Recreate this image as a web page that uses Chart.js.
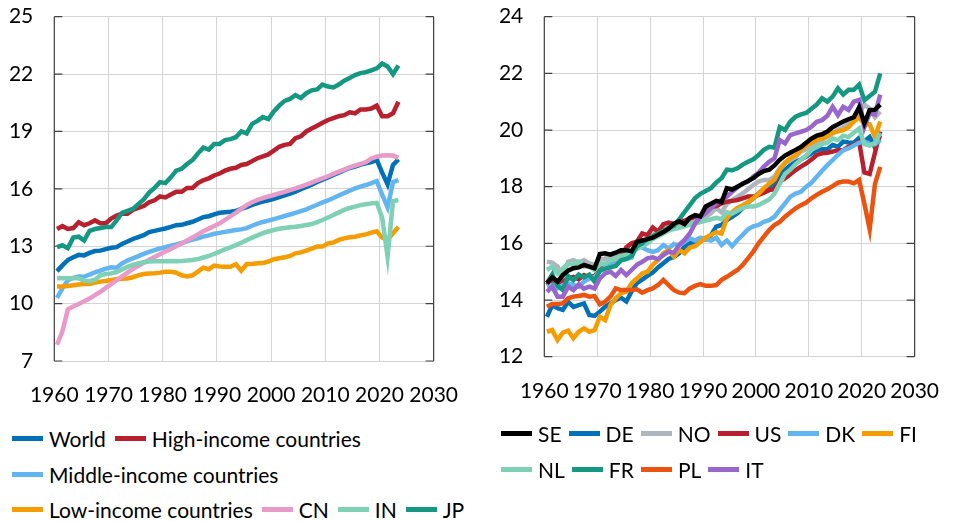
<!DOCTYPE html>
<html>
<head>
<meta charset="utf-8">
<script src="https://cdn.jsdelivr.net/npm/chart.js@4.4.1/dist/chart.umd.min.js"></script>
<style>
    html, body { margin: 0; padding: 0; background: #fff; }
    body { width: 961px; height: 522px; position: relative; overflow: hidden; font-family: Lato, sans-serif; }
    .panel { position: absolute; top: 0; height: 420px; }
    #leftPanel { left: 0; width: 480px; }
    #rightPanel { left: 490px; width: 471px; }
    .legend { position: absolute; font-size: 21px; color: #000; }
    #leftLegend { left: 12px; top: 421px; }
    #rightLegend { left: 501px; top: 416px; }
    .legend .row { display: flex; align-items: center; height: 35.5px; white-space: nowrap; }
    .legend .item { display: flex; align-items: center; margin-right: 9px; }
    #rightLegend .item { margin-right: 7px; }
    .legend .swatch { width: 31px; height: 5px; margin-right: 6px; }
</style>
</head>
<body>
<div class="panel" id="leftPanel"><canvas id="leftChart"></canvas></div>
<div class="panel" id="rightPanel"><canvas id="rightChart"></canvas></div>
<div class="legend" id="leftLegend"></div>
<div class="legend" id="rightLegend"></div>

<script>
//////////////////////* Data *////////////////////////////
let years = [];
for (let y = 1960; y <= 2023; y++) years.push(y);

let leftTicksX = [1960, 1970, 1980, 1990, 2000, 2010, 2020, 2030];
let leftTicksY = [7, 10, 13, 16, 19, 22, 25];
let rightTicksY = [12, 14, 16, 18, 20, 22, 24];

let leftNames = ["World", "High-income countries", "Middle-income countries", "Low-income countries", "CN", "IN", "JP"];
let rightNames = ["SE", "DE", "NO", "US", "DK", "FI", "NL", "FR", "PL", "IT"];

// left panel, 1960-2023
let world = [
    11.70, 12.00, 12.28, 12.42, 12.55, 12.52, 12.65, 12.75,
    12.77, 12.85, 12.92, 12.95, 13.12, 13.25, 13.38, 13.48,
    13.58, 13.74, 13.80, 13.87, 13.93, 14.01, 14.10, 14.12,
    14.20, 14.28, 14.40, 14.52, 14.57, 14.67, 14.75, 14.78,
    14.80, 14.84, 14.95, 15.05, 15.16, 15.25, 15.33, 15.40,
    15.48, 15.57, 15.66, 15.75, 15.85, 15.98, 16.10, 16.22,
    16.36, 16.48, 16.60, 16.73, 16.85, 16.97, 17.09, 17.16,
    17.27, 17.33, 17.40, 17.51, 16.85, 16.24, 17.25, 17.54
];
let highIncome = [
    13.90, 14.05, 13.90, 13.95, 14.25, 14.10, 14.20, 14.35,
    14.20, 14.20, 14.45, 14.60, 14.70, 14.70, 14.90, 15.00,
    15.10, 15.30, 15.40, 15.60, 15.55, 15.70, 15.85, 15.85,
    16.05, 16.05, 16.30, 16.45, 16.55, 16.70, 16.80, 16.95,
    17.05, 17.10, 17.25, 17.30, 17.45, 17.60, 17.70, 17.80,
    18.00, 18.20, 18.30, 18.35, 18.65, 18.75, 19.00, 19.15,
    19.30, 19.45, 19.60, 19.70, 19.80, 19.85, 20.00, 19.95,
    20.15, 20.15, 20.20, 20.35, 19.80, 19.80, 19.95, 20.55
];
let middleIncome = [
    10.30, 10.80, 11.22, 11.35, 11.42, 11.40, 11.52, 11.63,
    11.73, 11.83, 11.90, 11.88, 12.10, 12.25, 12.37, 12.48,
    12.60, 12.70, 12.80, 12.88, 12.95, 13.03, 13.10, 13.17,
    13.25, 13.35, 13.42, 13.50, 13.57, 13.65, 13.70, 13.75,
    13.80, 13.85, 13.88, 13.95, 14.07, 14.18, 14.27, 14.34,
    14.42, 14.50, 14.58, 14.66, 14.74, 14.83, 14.93, 15.05,
    15.17, 15.29, 15.40, 15.52, 15.65, 15.78, 15.90, 16.02,
    16.12, 16.20, 16.30, 16.40, 15.70, 15.03, 16.35, 16.46
];
let lowIncome = [
    10.90, 10.90, 10.92, 10.96, 11.00, 11.03, 11.03, 11.10,
    11.15, 11.18, 11.23, 11.27, 11.30, 11.31, 11.38, 11.48,
    11.55, 11.58, 11.59, 11.62, 11.66, 11.67, 11.62, 11.48,
    11.42, 11.48, 11.67, 11.88, 11.80, 11.99, 11.94, 11.93,
    11.93, 12.06, 11.72, 12.07, 12.07, 12.11, 12.12, 12.20,
    12.32, 12.37, 12.42, 12.49, 12.63, 12.68, 12.77, 12.87,
    12.98, 12.98, 13.15, 13.19, 13.33, 13.41, 13.47, 13.50,
    13.57, 13.62, 13.71, 13.78, 13.45, 13.35, 13.68, 14.00
];
let cn = [
    7.85, 8.55, 9.70, 9.85, 9.98, 10.12, 10.27, 10.44,
    10.62, 10.82, 11.02, 11.22, 11.42, 11.62, 11.80, 11.97,
    12.13, 12.29, 12.44, 12.58, 12.72, 12.86, 13.00, 13.14,
    13.30, 13.46, 13.62, 13.78, 13.92, 14.06, 14.20, 14.38,
    14.56, 14.75, 14.95, 15.15, 15.30, 15.42, 15.52, 15.60,
    15.68, 15.76, 15.84, 15.93, 16.02, 16.12, 16.22, 16.33,
    16.44, 16.55, 16.66, 16.78, 16.90, 17.01, 17.12, 17.22,
    17.31, 17.40, 17.58, 17.68, 17.74, 17.75, 17.74, 17.62
];
let india = [
    11.32, 11.32, 11.32, 11.33, 11.32, 11.20, 11.17, 11.25,
    11.48, 11.55, 11.58, 11.65, 11.78, 11.92, 12.02, 12.10,
    12.16, 12.20, 12.21, 12.21, 12.21, 12.22, 12.22, 12.23,
    12.25, 12.28, 12.33, 12.41, 12.49, 12.60, 12.72, 12.84,
    12.94, 13.06, 13.18, 13.32, 13.45, 13.57, 13.68, 13.77,
    13.85, 13.91, 13.95, 13.99, 14.02, 14.06, 14.11, 14.16,
    14.26, 14.37, 14.50, 14.63, 14.77, 14.90, 15.00, 15.07,
    15.15, 15.20, 15.24, 15.27, 14.50, 12.45, 15.35, 15.42
];
let jp = [
    12.95, 13.05, 12.90, 13.45, 13.50, 13.30, 13.80, 13.90,
    13.95, 14.00, 14.00, 14.35, 14.75, 14.85, 14.95, 15.20,
    15.45, 15.80, 16.05, 16.35, 16.30, 16.60, 16.95, 17.05,
    17.30, 17.50, 17.85, 18.15, 18.05, 18.35, 18.35, 18.55,
    18.60, 18.70, 19.00, 18.90, 19.40, 19.55, 19.75, 19.65,
    20.05, 20.35, 20.60, 20.70, 20.90, 20.75, 21.00, 21.15,
    21.20, 21.45, 21.35, 21.30, 21.45, 21.65, 21.80, 21.95,
    22.05, 22.10, 22.20, 22.30, 22.55, 22.40, 22.00, 22.45
];

// right panel, 1960-2023
let se = [
    14.59, 14.80, 14.65, 14.88, 15.04, 15.12, 15.15, 15.24,
    15.18, 15.12, 15.62, 15.65, 15.60, 15.67, 15.76, 15.76,
    15.72, 16.05, 16.10, 16.15, 16.20, 16.30, 16.40, 16.52,
    16.70, 16.78, 16.68, 16.90, 17.00, 16.95, 17.30, 17.40,
    17.50, 17.45, 17.95, 17.90, 18.00, 18.10, 18.20, 18.30,
    18.45, 18.55, 18.60, 18.75, 18.95, 19.10, 19.20, 19.30,
    19.40, 19.55, 19.70, 19.80, 19.85, 19.95, 20.10, 20.20,
    20.30, 20.38, 20.45, 20.80, 20.24, 20.70, 20.72, 20.90
];
let de = [
    13.41, 13.82, 13.71, 13.65, 13.94, 13.76, 13.82, 13.88,
    13.47, 13.44, 13.59, 13.76, 13.88, 14.00, 14.08, 13.95,
    14.30, 14.60, 14.72, 14.85, 14.97, 15.15, 15.30, 15.45,
    15.53, 15.65, 15.88, 16.00, 16.06, 16.15, 16.14, 16.29,
    16.59, 16.65, 16.82, 16.94, 17.06, 17.24, 17.44, 17.59,
    17.76, 17.91, 18.00, 18.06, 18.41, 18.59, 18.76, 18.88,
    18.96, 19.06, 19.18, 19.29, 19.32, 19.32, 19.47, 19.41,
    19.59, 19.56, 19.55, 19.72, 19.60, 19.75, 19.38, 19.80
];
let no = [
    15.35, 15.32, 15.18, 14.82, 15.35, 15.41, 15.32, 15.41,
    15.29, 15.24, 15.41, 15.47, 15.55, 15.53, 15.62, 15.71,
    15.74, 15.85, 16.00, 16.10, 16.30, 16.45, 16.55, 16.62,
    16.62, 16.59, 16.73, 16.80, 16.76, 16.85, 16.94, 17.06,
    17.24, 17.10, 17.39, 17.53, 17.65, 17.76, 17.91, 18.06,
    18.18, 18.24, 18.24, 18.35, 18.65, 18.82, 18.94, 19.06,
    19.24, 19.32, 19.41, 19.51, 19.65, 19.76, 19.88, 20.00,
    20.10, 20.25, 20.40, 20.60, 20.90, 20.75, 20.45, 20.65
];
let us = [
    14.53, 14.71, 14.49, 14.65, 14.76, 14.82, 14.73, 14.88,
    14.79, 14.85, 15.06, 15.24, 15.32, 15.35, 15.53, 15.86,
    16.00, 16.06, 16.35, 16.29, 16.56, 16.41, 16.68, 16.73,
    16.68, 16.76, 16.80, 16.88, 16.94, 16.96, 17.18, 17.29,
    17.32, 17.41, 17.47, 17.50, 17.53, 17.59, 17.65, 17.65,
    17.71, 17.79, 17.88, 17.91, 18.18, 18.29, 18.44, 18.59,
    18.71, 18.82, 18.96, 19.12, 19.18, 19.20, 19.24, 19.29,
    19.29, 19.41, 19.47, 19.59, 18.50, 18.45, 19.20, 19.95
];
let dk = [
    14.47, 14.53, 14.41, 14.53, 14.59, 14.53, 14.47, 14.65,
    14.76, 14.82, 15.00, 15.15, 15.25, 15.30, 15.40, 15.45,
    15.50, 15.96, 15.85, 15.76, 15.70, 15.76, 15.94, 15.82,
    15.98, 15.92, 16.05, 16.18, 16.10, 16.20, 16.15, 16.10,
    16.20, 15.94, 16.10, 15.90, 16.12, 16.30, 16.50, 16.60,
    16.65, 16.76, 16.82, 16.94, 17.18, 17.41, 17.65, 17.76,
    17.82, 18.00, 18.14, 18.35, 18.56, 18.76, 18.94, 19.12,
    19.29, 19.35, 19.45, 19.55, 19.60, 19.50, 19.50, 19.65
];
let fi = [
    12.88, 12.94, 12.59, 12.85, 12.92, 12.65, 12.88, 13.00,
    12.88, 12.94, 13.41, 13.29, 13.82, 14.06, 14.24, 14.29,
    14.59, 14.76, 14.94, 15.00, 15.24, 15.41, 15.65, 15.76,
    15.53, 15.76, 15.65, 15.85, 15.90, 16.05, 16.20, 16.30,
    16.40, 16.35, 16.88, 17.10, 17.25, 17.35, 17.45, 17.60,
    17.75, 17.95, 18.10, 18.25, 18.60, 18.85, 19.00, 19.10,
    19.30, 19.45, 19.55, 19.65, 19.70, 19.80, 19.90, 19.95,
    20.00, 20.10, 20.30, 20.45, 20.20, 20.20, 19.75, 20.30
];
let nl = [
    15.06, 15.18, 14.94, 15.12, 15.29, 15.24, 15.35, 15.18,
    15.18, 15.06, 15.25, 15.30, 15.40, 15.45, 15.55, 15.60,
    15.70, 15.80, 15.90, 16.00, 16.15, 16.25, 16.35, 16.45,
    16.50, 16.55, 16.60, 16.65, 16.70, 16.75, 16.80, 16.85,
    16.90, 16.85, 17.10, 17.05, 17.15, 17.25, 17.30, 17.30,
    17.35, 17.45, 17.55, 17.75, 18.10, 18.45, 18.60, 18.80,
    18.95, 19.10, 19.30, 19.40, 19.50, 19.55, 19.70, 19.65,
    19.80, 19.75, 19.90, 20.05, 19.50, 19.45, 19.55, 19.90
];
let fr = [
    14.60, 14.90, 14.50, 14.35, 14.85, 14.70, 14.90, 14.80,
    14.90, 14.65, 15.05, 15.10, 15.15, 15.20, 15.40, 15.45,
    15.55, 15.90, 16.00, 16.15, 16.25, 16.35, 16.45, 16.55,
    16.62, 16.85, 17.10, 17.35, 17.60, 17.75, 17.85, 17.95,
    18.15, 18.30, 18.60, 18.58, 18.65, 18.78, 18.88, 18.97,
    19.12, 19.30, 19.41, 19.38, 20.10, 20.00, 20.30, 20.47,
    20.55, 20.60, 20.75, 20.90, 21.12, 21.00, 21.18, 21.47,
    21.25, 21.42, 21.42, 21.60, 21.05, 21.20, 21.35, 22.00
];
let pl = [
    13.76, 13.86, 13.86, 13.88, 14.06, 14.12, 14.14, 14.18,
    14.12, 14.14, 13.85, 13.94, 14.12, 14.41, 14.35, 14.35,
    14.35, 14.38, 14.26, 14.35, 14.41, 14.53, 14.71, 14.53,
    14.35, 14.26, 14.24, 14.41, 14.50, 14.56, 14.50, 14.50,
    14.53, 14.71, 14.82, 14.94, 15.06, 15.24, 15.47, 15.71,
    16.00, 16.24, 16.47, 16.65, 16.76, 16.94, 17.09, 17.24,
    17.35, 17.44, 17.59, 17.71, 17.82, 17.91, 18.02, 18.14,
    18.18, 18.18, 18.12, 18.24, 17.40, 16.50, 18.10, 18.70
];
let it = [
    14.29, 14.47, 14.12, 14.12, 14.47, 14.35, 14.55, 14.40,
    14.47, 14.41, 14.76, 14.94, 15.00, 14.85, 15.06, 14.88,
    15.06, 15.24, 15.35, 15.47, 15.51, 15.44, 15.59, 15.71,
    15.67, 15.95, 16.12, 16.35, 16.70, 16.94, 17.06, 17.24,
    17.41, 17.53, 17.65, 17.82, 17.98, 18.12, 18.18, 18.35,
    18.49, 18.71, 18.88, 19.00, 19.65, 19.53, 19.82, 19.88,
    19.94, 20.00, 20.12, 20.29, 20.35, 20.50, 20.82, 20.53,
    20.82, 20.71, 21.00, 21.06, 20.10, 20.60, 20.55, 21.25
];

//////////////////////* Styles *////////////////////////////
let mainFont = "Lato";
let gridColor = "#d4d4d4";
let axisColor = "#404040";

let leftColors = ["#0070b8", "#b8202e", "#62b5f0", "#f59c00", "#e89ac8", "#7fd1b5", "#149882"];
let rightColors = ["#000000", "#0070b8", "#adb5bd", "#b8202e", "#62b5f0", "#f59c00", "#7fd1b5", "#149882", "#ea5410", "#9966cc"];

let leftLegendRows = [[0, 1], [2], [3, 4, 5, 6]];
let rightLegendRows = [[0, 1, 2, 3, 4, 5], [6, 7, 8, 9]];

Chart.defaults.font.family = mainFont;
Chart.defaults.color = "#000";

//////////////////////* Intialize *////////////////////////////
window.addEventListener("load", function () {
    panelChart("leftChart", leftNames, [world, highIncome, middleIncome, lowIncome, cn, india, jp],
        leftColors, leftTicksY, 33.3, 59, -1);
    panelChart("rightChart", rightNames, [se, de, no, us, dk, fi, nl, fr, pl, it],
        rightColors, rightTicksY, 24.3, 63.3, 0);
    buildLegend("leftLegend", leftNames, leftColors, leftLegendRows);
    buildLegend("rightLegend", rightNames, rightColors, rightLegendRows);
});

// dark left/right axis lines with inside tick marks
let framePlugin = {
    id: "frame",
    beforeDatasetsDraw(chart) {
        let ctx = chart.ctx;
        let a = chart.chartArea;
        let y = chart.scales.y;
        ctx.save();
        ctx.strokeStyle = axisColor;
        ctx.lineWidth = 1.2;
        ctx.beginPath();
        ctx.moveTo(a.left, a.top);
        ctx.lineTo(a.left, a.bottom);
        ctx.moveTo(a.right, a.top);
        ctx.lineTo(a.right, a.bottom);
        y.ticks.forEach(function (t) {
            let py = y.getPixelForValue(t.value);
            ctx.moveTo(a.left, py);
            ctx.lineTo(a.left + 8, py);
            ctx.moveTo(a.right - 8, py);
            ctx.lineTo(a.right, py);
        });
        ctx.stroke();
        ctx.restore();
    },
};

//////////////////////* Line Charts *////////////////////////////
function panelChart(id, names, series, colors, yTicks, padRight, xHeight, topIndex) {
    let datasets = names.map(function (name, i) {
        return {
            label: name,
            // yearly values plotted at mid-year
            data: series[i].map(function (v, k) { return { x: years[k] + 0.5, y: v }; }),
            borderColor: colors[i],
            backgroundColor: colors[i],
            borderWidth: 4.5,
            pointRadius: 0,
            tension: 0,
            fill: false,
            order: i === topIndex ? -100 : -i,
        };
    });

    let config = {
        type: "line",
        data: { datasets: datasets },
        options: {
            responsive: true,
            maintainAspectRatio: false,
            animation: false,
            layout: { padding: { top: 16.7, right: padRight, left: 0, bottom: 0 } },
            plugins: {
                legend: { display: false },
                tooltip: { enabled: false },
            },
            scales: {
                x: {
                    type: "linear",
                    min: leftTicksX[0],
                    max: leftTicksX[leftTicksX.length - 1],
                    afterBuildTicks: function (scale) {
                        scale.ticks = leftTicksX.map(function (v) { return { value: v }; });
                    },
                    ticks: {
                        autoSkip: false,
                        maxRotation: 0,
                        padding: 22,
                        color: "#000",
                        font: { family: mainFont, size: 21 },
                        callback: function (value) { return String(value); },
                    },
                    grid: { color: gridColor, lineWidth: 1, drawTicks: false },
                    border: { display: false },
                    afterFit: function (scale) { scale.height = xHeight; },
                },
                y: {
                    min: yTicks[0],
                    max: yTicks[yTicks.length - 1],
                    afterBuildTicks: function (scale) {
                        scale.ticks = yTicks.map(function (v) { return { value: v }; });
                    },
                    ticks: {
                        padding: 21,
                        color: "#000",
                        font: { family: mainFont, size: 21 },
                    },
                    grid: { color: gridColor, lineWidth: 1, drawTicks: false },
                    border: { display: false },
                    afterFit: function (scale) {
                        scale.width = 54.3;
                        // label padding would otherwise push the plot top down
                        scale.paddingTop = 10;
                        scale.paddingBottom = 10;
                    },
                },
            },
        },
        plugins: [framePlugin],
    };
    return new Chart(document.getElementById(id), config);
}

//////////////////////* Legends *////////////////////////////
function buildLegend(id, names, colors, rows) {
    let box = document.getElementById(id);
    rows.forEach(function (row) {
        let rowDiv = document.createElement("div");
        rowDiv.className = "row";
        row.forEach(function (i) {
            let item = document.createElement("div");
            item.className = "item";
            let sw = document.createElement("span");
            sw.className = "swatch";
            sw.style.background = colors[i];
            let txt = document.createElement("span");
            txt.textContent = names[i];
            item.appendChild(sw);
            item.appendChild(txt);
            rowDiv.appendChild(item);
        });
        box.appendChild(rowDiv);
    });
}
</script>
</body>
</html>
